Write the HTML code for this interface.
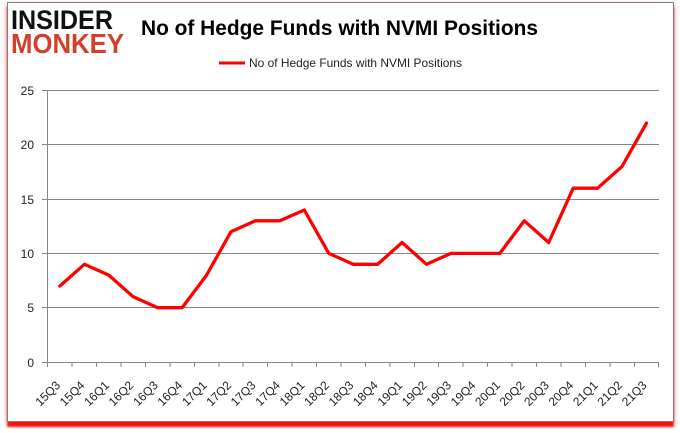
<!DOCTYPE html>
<html>
<head>
<meta charset="utf-8">
<style>
  html,body{margin:0;padding:0;background:#fff;}
  body{width:680px;height:433px;position:relative;overflow:hidden;}
  .frame{position:absolute;left:7px;top:2px;width:665px;height:418px;border:1px solid #7f7f7f;background:#fff;
    box-shadow:0 5px 2px rgba(255,0,0,0.95), 3px 1px 3px rgba(255,0,0,0.12), -3px 0 3px rgba(255,0,0,0.12);}
  svg{position:absolute;left:0;top:0;}
  text{font-family:"Liberation Sans", Arial, sans-serif;}
</style>
</head>
<body>
<div class="frame"></div>
<svg width="680" height="433" viewBox="0 0 680 433">
  <!-- logo -->
  <text x="11" y="29" font-size="26.5" font-weight="bold" fill="#111" textLength="102" lengthAdjust="spacingAndGlyphs">INSIDER</text>
  <text x="11" y="53" font-size="28" font-weight="bold" fill="#d2402c" textLength="113" lengthAdjust="spacingAndGlyphs">MONKEY</text>
  <!-- title -->
  <text x="141" y="35" font-size="21" font-weight="bold" fill="#000" textLength="397" lengthAdjust="spacingAndGlyphs">No of Hedge Funds with NVMI Positions</text>
  <!-- legend -->
  <line x1="219" y1="63" x2="245" y2="63" stroke="#ff0000" stroke-width="3"/>
  <text x="249" y="67" font-size="12" fill="#222" textLength="213" lengthAdjust="spacingAndGlyphs">No of Hedge Funds with NVMI Positions</text>

  <!-- gridlines -->
  <g stroke="#868686" stroke-width="1" shape-rendering="crispEdges">
    <line x1="42" y1="90.5" x2="659" y2="90.5"/>
    <line x1="42" y1="144.5" x2="659" y2="144.5"/>
    <line x1="42" y1="199.5" x2="659" y2="199.5"/>
    <line x1="42" y1="253.5" x2="659" y2="253.5"/>
    <line x1="42" y1="307.5" x2="659" y2="307.5"/>
    <line x1="42" y1="362.5" x2="659" y2="362.5"/>
    <line x1="47.5" y1="90.5" x2="47.5" y2="362.5"/>
    <!-- x ticks -->
    <line x1="47.7" y1="362" x2="47.7" y2="367"/>
    <line x1="72.1" y1="362" x2="72.1" y2="367"/>
    <line x1="96.6" y1="362" x2="96.6" y2="367"/>
    <line x1="121.0" y1="362" x2="121.0" y2="367"/>
    <line x1="145.5" y1="362" x2="145.5" y2="367"/>
    <line x1="169.9" y1="362" x2="169.9" y2="367"/>
    <line x1="194.3" y1="362" x2="194.3" y2="367"/>
    <line x1="218.8" y1="362" x2="218.8" y2="367"/>
    <line x1="243.2" y1="362" x2="243.2" y2="367"/>
    <line x1="267.7" y1="362" x2="267.7" y2="367"/>
    <line x1="292.1" y1="362" x2="292.1" y2="367"/>
    <line x1="316.5" y1="362" x2="316.5" y2="367"/>
    <line x1="341.0" y1="362" x2="341.0" y2="367"/>
    <line x1="365.4" y1="362" x2="365.4" y2="367"/>
    <line x1="389.9" y1="362" x2="389.9" y2="367"/>
    <line x1="414.3" y1="362" x2="414.3" y2="367"/>
    <line x1="438.7" y1="362" x2="438.7" y2="367"/>
    <line x1="463.2" y1="362" x2="463.2" y2="367"/>
    <line x1="487.6" y1="362" x2="487.6" y2="367"/>
    <line x1="512.1" y1="362" x2="512.1" y2="367"/>
    <line x1="536.5" y1="362" x2="536.5" y2="367"/>
    <line x1="560.9" y1="362" x2="560.9" y2="367"/>
    <line x1="585.4" y1="362" x2="585.4" y2="367"/>
    <line x1="609.8" y1="362" x2="609.8" y2="367"/>
    <line x1="634.3" y1="362" x2="634.3" y2="367"/>
    <line x1="658.7" y1="362" x2="658.7" y2="367"/>
  </g>

  <!-- y labels -->
  <g font-size="12" fill="#222" text-anchor="end">
    <text x="34" y="95">25</text>
    <text x="34" y="149">20</text>
    <text x="34" y="204">15</text>
    <text x="34" y="258">10</text>
    <text x="34" y="312">5</text>
    <text x="34" y="367">0</text>
  </g>

  <!-- series -->
  <polyline fill="none" stroke="#ff0000" stroke-width="3.3" stroke-linejoin="round" stroke-linecap="round"
    points="59.9,286.0 84.4,264.3 108.8,275.1 133.2,296.8 157.7,307.7 182.1,307.7 206.6,275.1 231.0,231.7 255.4,220.8 279.9,220.8 304.3,210.0 328.8,253.4 353.2,264.3 377.6,264.3 402.1,242.5 426.5,264.3 451.0,253.4 475.4,253.4 499.8,253.4 524.3,220.8 548.7,242.5 573.2,188.2 597.6,188.2 622.0,166.5 646.5,123.1"/>

  <!-- x labels -->
  <g font-size="12" fill="#222" text-anchor="end">
    <text transform="translate(61,386) rotate(-45)">15Q3</text>
    <text transform="translate(85.4,386) rotate(-45)">15Q4</text>
    <text transform="translate(109.8,386) rotate(-45)">16Q1</text>
    <text transform="translate(134.2,386) rotate(-45)">16Q2</text>
    <text transform="translate(158.7,386) rotate(-45)">16Q3</text>
    <text transform="translate(183.1,386) rotate(-45)">16Q4</text>
    <text transform="translate(207.6,386) rotate(-45)">17Q1</text>
    <text transform="translate(232.0,386) rotate(-45)">17Q2</text>
    <text transform="translate(256.4,386) rotate(-45)">17Q3</text>
    <text transform="translate(280.9,386) rotate(-45)">17Q4</text>
    <text transform="translate(305.3,386) rotate(-45)">18Q1</text>
    <text transform="translate(329.8,386) rotate(-45)">18Q2</text>
    <text transform="translate(354.2,386) rotate(-45)">18Q3</text>
    <text transform="translate(378.6,386) rotate(-45)">18Q4</text>
    <text transform="translate(403.1,386) rotate(-45)">19Q1</text>
    <text transform="translate(427.5,386) rotate(-45)">19Q2</text>
    <text transform="translate(452.0,386) rotate(-45)">19Q3</text>
    <text transform="translate(476.4,386) rotate(-45)">19Q4</text>
    <text transform="translate(500.8,386) rotate(-45)">20Q1</text>
    <text transform="translate(525.3,386) rotate(-45)">20Q2</text>
    <text transform="translate(549.7,386) rotate(-45)">20Q3</text>
    <text transform="translate(574.2,386) rotate(-45)">20Q4</text>
    <text transform="translate(598.6,386) rotate(-45)">21Q1</text>
    <text transform="translate(623.0,386) rotate(-45)">21Q2</text>
    <text transform="translate(647.5,386) rotate(-45)">21Q3</text>
  </g>
</svg>
</body>
</html>
